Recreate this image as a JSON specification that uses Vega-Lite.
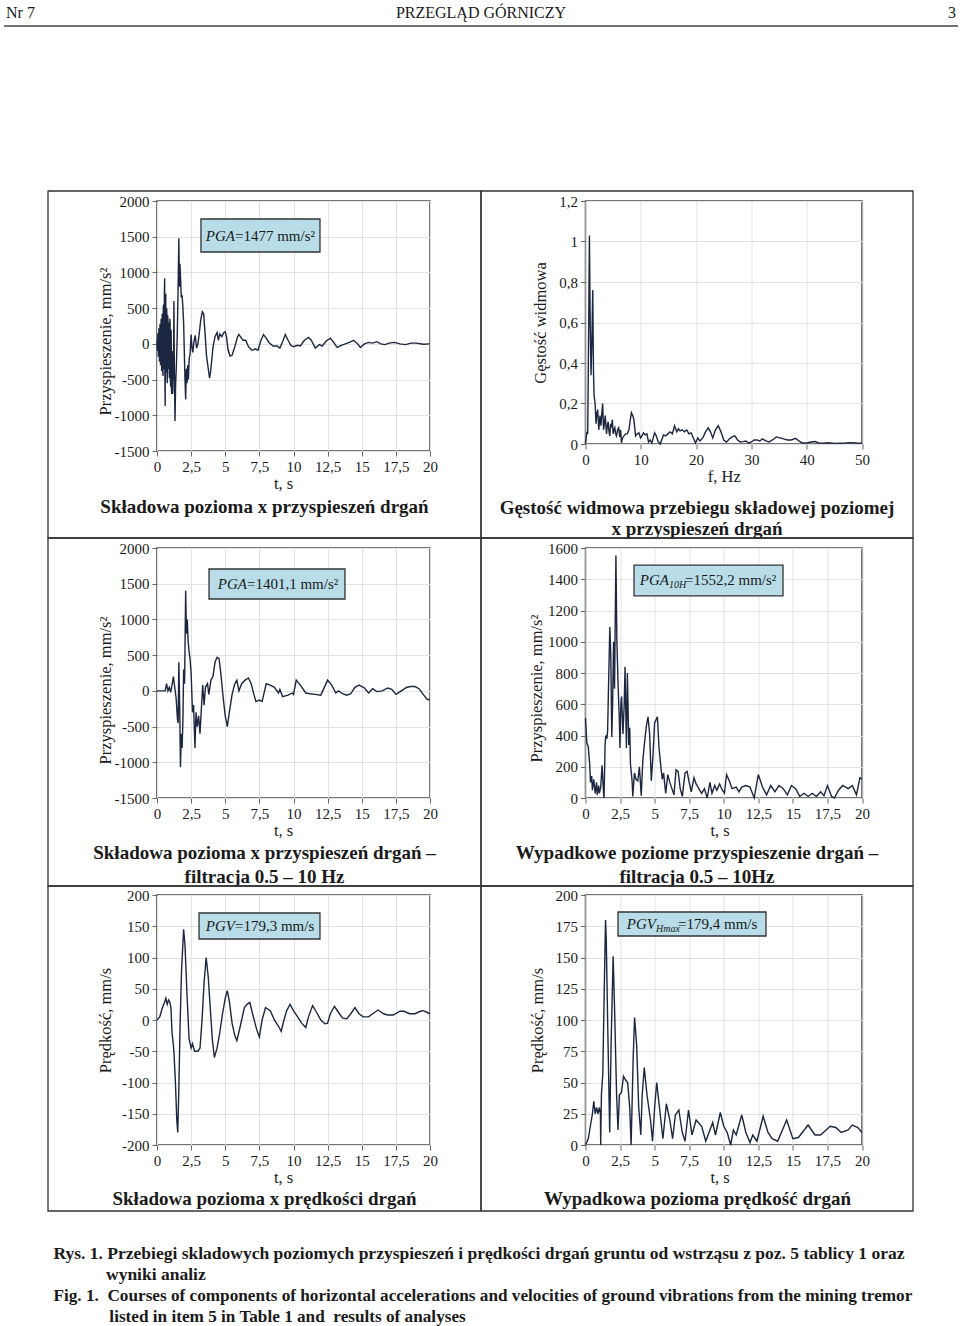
{
 "$schema": "https://vega.github.io/schema/vega-lite/v6.json",
 "background": "white",
 "padding": {"left": 2, "top": 4, "right": 0, "bottom": 0},
 "config": {
  "view": {"stroke": "#4a4a4a", "strokeWidth": 1.5},
  "axis": {"labelFont": "Liberation Serif", "labelFontSize": 15, "labelColor": "#1a1a1a", "titleFont": "Liberation Serif", "titleFontSize": 16.5, "titleFontWeight": "normal", "titleColor": "#1a1a1a", "domain": false, "ticks": true, "tickColor": "#666", "tickSize": 5, "labelPadding": 3, "gridColor": "#e2e2e2", "titlePadding": 3, "labelFlush": false, "labelOverlap": false, "tickCount": 30},
  "axisX": {"titlePadding": 1},
  "text": {"font": "Liberation Serif", "color": "#1a1a1a"}
 },
 "datasets": {
  "p1": [{"t":0,"v":50},{"t":0.02,"v":-60},{"t":0.04,"v":-100},{"t":0.06,"v":120},{"t":0.08,"v":150},{"t":0.1,"v":-180},{"t":0.12,"v":-50},{"t":0.14,"v":220},{"t":0.16,"v":200},{"t":0.18,"v":-250},{"t":0.2,"v":-150},{"t":0.22,"v":280},{"t":0.24,"v":100},{"t":0.26,"v":-300},{"t":0.28,"v":-250},{"t":0.3,"v":350},{"t":0.32,"v":300},{"t":0.34,"v":-380},{"t":0.36,"v":-300},{"t":0.38,"v":420},{"t":0.4,"v":400},{"t":0.42,"v":-400},{"t":0.44,"v":-450},{"t":0.46,"v":500},{"t":0.48,"v":550},{"t":0.5,"v":-300},{"t":0.52,"v":-350},{"t":0.54,"v":700},{"t":0.56,"v":920},{"t":0.58,"v":-500},{"t":0.6,"v":-870},{"t":0.62,"v":300},{"t":0.64,"v":700},{"t":0.66,"v":-200},{"t":0.68,"v":-400},{"t":0.7,"v":500},{"t":0.72,"v":450},{"t":0.74,"v":-450},{"t":0.76,"v":-550},{"t":0.78,"v":400},{"t":0.8,"v":350},{"t":0.82,"v":-350},{"t":0.84,"v":-300},{"t":0.86,"v":300},{"t":0.88,"v":250},{"t":0.9,"v":-400},{"t":0.92,"v":-480},{"t":0.94,"v":350},{"t":0.96,"v":300},{"t":0.98,"v":-500},{"t":1.0,"v":-600},{"t":1.02,"v":200},{"t":1.04,"v":150},{"t":1.06,"v":-650},{"t":1.08,"v":-700},{"t":1.1,"v":-100},{"t":1.12,"v":-200},{"t":1.14,"v":-700},{"t":1.16,"v":-650},{"t":1.18,"v":-300},{"t":1.2,"v":-500},{"t":1.24,"v":600},{"t":1.27,"v":-300},{"t":1.32,"v":-1080},{"t":1.36,"v":-600},{"t":1.42,"v":-300},{"t":1.48,"v":100},{"t":1.54,"v":700},{"t":1.6,"v":1477},{"t":1.64,"v":800},{"t":1.68,"v":1120},{"t":1.73,"v":900},{"t":1.78,"v":650},{"t":1.84,"v":680},{"t":1.9,"v":500},{"t":1.95,"v":300},{"t":2.0,"v":-100},{"t":2.05,"v":-500},{"t":2.1,"v":-780},{"t":2.15,"v":-350},{"t":2.2,"v":-550},{"t":2.25,"v":-300},{"t":2.3,"v":-500},{"t":2.36,"v":-200},{"t":2.42,"v":-150},{"t":2.5,"v":130},{"t":2.56,"v":-50},{"t":2.62,"v":-120},{"t":2.7,"v":20},{"t":2.8,"v":120},{"t":2.9,"v":-60},{"t":3.0,"v":0},{"t":3.1,"v":150},{"t":3.2,"v":330},{"t":3.32,"v":450},{"t":3.42,"v":420},{"t":3.52,"v":150},{"t":3.62,"v":-150},{"t":3.72,"v":-300},{"t":3.85,"v":-480},{"t":3.92,"v":-400},{"t":4.0,"v":-250},{"t":4.1,"v":-50},{"t":4.25,"v":100},{"t":4.4,"v":160},{"t":4.5,"v":50},{"t":4.6,"v":140},{"t":4.75,"v":100},{"t":4.9,"v":160},{"t":5.0,"v":170},{"t":5.1,"v":90},{"t":5.2,"v":-80},{"t":5.35,"v":-170},{"t":5.5,"v":-160},{"t":5.7,"v":-40},{"t":5.9,"v":100},{"t":6.0,"v":130},{"t":6.15,"v":90},{"t":6.3,"v":50},{"t":6.5,"v":50},{"t":6.7,"v":-40},{"t":6.9,"v":-80},{"t":7.0,"v":-90},{"t":7.2,"v":-70},{"t":7.4,"v":-90},{"t":7.6,"v":40},{"t":7.8,"v":130},{"t":8.0,"v":80},{"t":8.2,"v":20},{"t":8.5,"v":-30},{"t":8.8,"v":-30},{"t":9.0,"v":-60},{"t":9.2,"v":30},{"t":9.4,"v":130},{"t":9.6,"v":50},{"t":9.8,"v":-20},{"t":10.0,"v":-40},{"t":10.3,"v":-20},{"t":10.5,"v":-30},{"t":10.8,"v":50},{"t":11.1,"v":90},{"t":11.3,"v":50},{"t":11.6,"v":-60},{"t":11.9,"v":-10},{"t":12.1,"v":-30},{"t":12.4,"v":40},{"t":12.7,"v":80},{"t":12.9,"v":30},{"t":13.2,"v":-50},{"t":13.5,"v":-20},{"t":13.8,"v":0},{"t":14.1,"v":20},{"t":14.4,"v":50},{"t":14.7,"v":0},{"t":14.9,"v":-50},{"t":15.2,"v":0},{"t":15.5,"v":20},{"t":15.8,"v":10},{"t":16.1,"v":30},{"t":16.4,"v":0},{"t":16.7,"v":-10},{"t":17.0,"v":10},{"t":17.4,"v":20},{"t":17.8,"v":0},{"t":18.2,"v":-10},{"t":18.6,"v":10},{"t":19.0,"v":10},{"t":19.5,"v":-5},{"t":20,"v":0}],
  "p2": [{"f":0,"g":0},{"f":0.25,"g":0.06},{"f":0.4,"g":0.05},{"f":0.55,"g":0.5},{"f":0.71,"g":1.03},{"f":0.85,"g":0.6},{"f":1.0,"g":0.34},{"f":1.15,"g":0.5},{"f":1.31,"g":0.76},{"f":1.45,"g":0.35},{"f":1.55,"g":0.24},{"f":1.74,"g":0.2},{"f":1.9,"g":0.1},{"f":2.05,"g":0.15},{"f":2.2,"g":0.17},{"f":2.4,"g":0.07},{"f":2.62,"g":0.14},{"f":2.8,"g":0.09},{"f":2.95,"g":0.15},{"f":3.1,"g":0.2},{"f":3.27,"g":0.07},{"f":3.42,"g":0.1},{"f":3.57,"g":0.14},{"f":3.8,"g":0.05},{"f":3.95,"g":0.09},{"f":4.1,"g":0.11},{"f":4.25,"g":0.06},{"f":4.4,"g":0.04},{"f":4.55,"g":0.1},{"f":4.7,"g":0.09},{"f":4.85,"g":0.12},{"f":5.0,"g":0.05},{"f":5.15,"g":0.07},{"f":5.3,"g":0.08},{"f":5.45,"g":0.05},{"f":5.6,"g":0.04},{"f":5.8,"g":0.07},{"f":6.0,"g":0.08},{"f":6.2,"g":0.035},{"f":6.35,"g":0.07},{"f":6.5,"g":0.006},{"f":6.7,"g":0.03},{"f":6.96,"g":0.04},{"f":7.25,"g":0.05},{"f":7.56,"g":0.05},{"f":7.86,"g":0.07},{"f":8.05,"g":0.11},{"f":8.3,"g":0.155},{"f":8.55,"g":0.14},{"f":8.75,"g":0.12},{"f":9.05,"g":0.04},{"f":9.35,"g":0.05},{"f":9.65,"g":0.055},{"f":9.95,"g":0.03},{"f":10.2,"g":0.04},{"f":10.5,"g":0.055},{"f":10.8,"g":0.045},{"f":11.1,"g":0.05},{"f":11.4,"g":0.01},{"f":11.7,"g":0.02},{"f":12.0,"g":0.005},{"f":12.5,"g":0.055},{"f":12.8,"g":0.04},{"f":13.1,"g":0.014},{"f":13.5,"g":0.0},{"f":14.1,"g":0.045},{"f":14.5,"g":0.04},{"f":14.9,"g":0.05},{"f":15.3,"g":0.06},{"f":15.7,"g":0.05},{"f":16.1,"g":0.09},{"f":16.5,"g":0.06},{"f":16.8,"g":0.075},{"f":17.1,"g":0.065},{"f":17.5,"g":0.07},{"f":17.9,"g":0.06},{"f":18.3,"g":0.07},{"f":18.7,"g":0.05},{"f":19.1,"g":0.055},{"f":19.5,"g":0.03},{"f":19.9,"g":0.005},{"f":20.3,"g":0.03},{"f":20.7,"g":0.015},{"f":21.2,"g":0.03},{"f":21.7,"g":0.06},{"f":22.2,"g":0.08},{"f":22.6,"g":0.06},{"f":23.0,"g":0.03},{"f":23.5,"g":0.07},{"f":24.0,"g":0.09},{"f":24.5,"g":0.06},{"f":25.0,"g":0.02},{"f":25.5,"g":0.01},{"f":26.0,"g":0.025},{"f":26.5,"g":0.035},{"f":27.0,"g":0.04},{"f":27.5,"g":0.02},{"f":28.0,"g":0.01},{"f":28.5,"g":0.012},{"f":29.0,"g":0.015},{"f":29.5,"g":0.005},{"f":30.0,"g":0.01},{"f":30.5,"g":0.02},{"f":31.0,"g":0.02},{"f":31.5,"g":0.015},{"f":32.0,"g":0.025},{"f":32.6,"g":0.015},{"f":33.2,"g":0.01},{"f":33.8,"g":0.02},{"f":34.5,"g":0.035},{"f":35.2,"g":0.03},{"f":35.8,"g":0.025},{"f":36.5,"g":0.02},{"f":37.2,"g":0.02},{"f":38.0,"g":0.028},{"f":38.6,"g":0.015},{"f":39.2,"g":0.005},{"f":40.0,"g":0.005},{"f":40.8,"g":0.01},{"f":41.5,"g":0.012},{"f":42.2,"g":0.005},{"f":43,"g":0.004},{"f":44,"g":0.006},{"f":45,"g":0.003},{"f":46,"g":0.004},{"f":47,"g":0.005},{"f":48,"g":0.007},{"f":49,"g":0.005},{"f":50,"g":0.004}],
  "p3": [{"t":0,"v":0},{"t":0.6,"v":0},{"t":0.7,"v":100},{"t":0.8,"v":0},{"t":0.9,"v":50},{"t":1.0,"v":-20},{"t":1.1,"v":80},{"t":1.2,"v":200},{"t":1.3,"v":50},{"t":1.4,"v":-100},{"t":1.5,"v":-400},{"t":1.55,"v":-450},{"t":1.6,"v":400},{"t":1.66,"v":-200},{"t":1.72,"v":-1070},{"t":1.78,"v":-600},{"t":1.84,"v":-800},{"t":1.9,"v":-400},{"t":1.95,"v":300},{"t":2.02,"v":100},{"t":2.1,"v":1400},{"t":2.16,"v":800},{"t":2.22,"v":1000},{"t":2.28,"v":700},{"t":2.35,"v":550},{"t":2.42,"v":450},{"t":2.5,"v":250},{"t":2.6,"v":-300},{"t":2.68,"v":-200},{"t":2.78,"v":-800},{"t":2.86,"v":-300},{"t":2.95,"v":-500},{"t":3.05,"v":-350},{"t":3.15,"v":-600},{"t":3.25,"v":-250},{"t":3.35,"v":80},{"t":3.45,"v":-200},{"t":3.55,"v":50},{"t":3.7,"v":100},{"t":3.8,"v":-50},{"t":3.95,"v":150},{"t":4.1,"v":200},{"t":4.25,"v":400},{"t":4.4,"v":470},{"t":4.55,"v":450},{"t":4.7,"v":200},{"t":4.85,"v":-100},{"t":5.0,"v":-350},{"t":5.15,"v":-500},{"t":5.3,"v":-300},{"t":5.5,"v":-50},{"t":5.7,"v":100},{"t":5.85,"v":150},{"t":6.0,"v":0},{"t":6.2,"v":100},{"t":6.45,"v":150},{"t":6.7,"v":180},{"t":6.9,"v":100},{"t":7.1,"v":-50},{"t":7.25,"v":-150},{"t":7.5,"v":-130},{"t":7.7,"v":-150},{"t":8.0,"v":100},{"t":8.3,"v":80},{"t":8.6,"v":50},{"t":8.9,"v":-30},{"t":9.0,"v":20},{"t":9.2,"v":-80},{"t":9.6,"v":-60},{"t":9.9,"v":-30},{"t":10.0,"v":-50},{"t":10.2,"v":150},{"t":10.5,"v":80},{"t":10.9,"v":-30},{"t":11.2,"v":-40},{"t":11.6,"v":-50},{"t":12.0,"v":-60},{"t":12.5,"v":150},{"t":12.8,"v":80},{"t":13.1,"v":-30},{"t":13.3,"v":0},{"t":13.6,"v":-40},{"t":13.9,"v":-60},{"t":14.2,"v":-40},{"t":14.5,"v":50},{"t":14.8,"v":80},{"t":15.2,"v":40},{"t":15.5,"v":-30},{"t":15.8,"v":30},{"t":16.1,"v":-10},{"t":16.5,"v":0},{"t":16.9,"v":40},{"t":17.2,"v":20},{"t":17.5,"v":-50},{"t":17.9,"v":0},{"t":18.3,"v":50},{"t":18.6,"v":60},{"t":18.9,"v":60},{"t":19.2,"v":30},{"t":19.5,"v":-50},{"t":19.8,"v":-120},{"t":20,"v":-120}],
  "p4": [{"t":0,"v":510},{"t":0.1,"v":350},{"t":0.2,"v":330},{"t":0.3,"v":220},{"t":0.36,"v":100},{"t":0.45,"v":140},{"t":0.5,"v":50},{"t":0.6,"v":120},{"t":0.7,"v":30},{"t":0.8,"v":100},{"t":0.85,"v":20},{"t":0.95,"v":80},{"t":1.0,"v":30},{"t":1.1,"v":70},{"t":1.2,"v":210},{"t":1.3,"v":40},{"t":1.34,"v":0},{"t":1.42,"v":350},{"t":1.47,"v":400},{"t":1.55,"v":380},{"t":1.6,"v":430},{"t":1.66,"v":690},{"t":1.76,"v":1095},{"t":1.83,"v":910},{"t":1.9,"v":390},{"t":1.96,"v":600},{"t":2.03,"v":1000},{"t":2.1,"v":700},{"t":2.2,"v":1552},{"t":2.27,"v":1000},{"t":2.37,"v":690},{"t":2.45,"v":500},{"t":2.49,"v":320},{"t":2.56,"v":600},{"t":2.61,"v":650},{"t":2.71,"v":410},{"t":2.8,"v":600},{"t":2.86,"v":840},{"t":2.96,"v":320},{"t":3.03,"v":800},{"t":3.13,"v":340},{"t":3.2,"v":450},{"t":3.25,"v":220},{"t":3.37,"v":110},{"t":3.42,"v":10},{"t":3.54,"v":160},{"t":3.65,"v":120},{"t":3.78,"v":110},{"t":3.9,"v":200},{"t":4.03,"v":15},{"t":4.15,"v":245},{"t":4.3,"v":380},{"t":4.4,"v":460},{"t":4.52,"v":520},{"t":4.64,"v":410},{"t":4.76,"v":110},{"t":4.88,"v":270},{"t":5.0,"v":480},{"t":5.2,"v":520},{"t":5.32,"v":320},{"t":5.44,"v":210},{"t":5.55,"v":120},{"t":5.65,"v":160},{"t":5.8,"v":30},{"t":5.95,"v":150},{"t":6.1,"v":100},{"t":6.25,"v":60},{"t":6.4,"v":20},{"t":6.55,"v":180},{"t":6.7,"v":170},{"t":6.85,"v":60},{"t":7.0,"v":10},{"t":7.2,"v":160},{"t":7.35,"v":170},{"t":7.5,"v":100},{"t":7.65,"v":40},{"t":7.85,"v":130},{"t":8.0,"v":90},{"t":8.2,"v":60},{"t":8.4,"v":30},{"t":8.6,"v":60},{"t":8.8,"v":0},{"t":9.0,"v":100},{"t":9.15,"v":30},{"t":9.35,"v":80},{"t":9.5,"v":50},{"t":9.7,"v":90},{"t":9.9,"v":50},{"t":10.05,"v":30},{"t":10.2,"v":150},{"t":10.4,"v":110},{"t":10.6,"v":60},{"t":10.9,"v":70},{"t":11.1,"v":40},{"t":11.3,"v":70},{"t":11.6,"v":80},{"t":11.9,"v":70},{"t":12.2,"v":0},{"t":12.5,"v":150},{"t":12.8,"v":70},{"t":13.1,"v":20},{"t":13.4,"v":80},{"t":13.7,"v":40},{"t":14.0,"v":80},{"t":14.3,"v":60},{"t":14.6,"v":20},{"t":14.9,"v":80},{"t":15.2,"v":60},{"t":15.5,"v":10},{"t":15.8,"v":30},{"t":16.1,"v":10},{"t":16.4,"v":30},{"t":16.7,"v":10},{"t":17.0,"v":40},{"t":17.25,"v":15},{"t":17.5,"v":80},{"t":17.8,"v":10},{"t":18.0,"v":0},{"t":18.3,"v":50},{"t":18.6,"v":80},{"t":19.0,"v":60},{"t":19.3,"v":80},{"t":19.6,"v":20},{"t":19.85,"v":130},{"t":20.0,"v":120}],
  "p5": [{"t":0,"v":0},{"t":0.2,"v":5},{"t":0.4,"v":20},{"t":0.55,"v":28},{"t":0.65,"v":35},{"t":0.75,"v":25},{"t":0.85,"v":32},{"t":0.95,"v":28},{"t":1.02,"v":20},{"t":1.1,"v":-20},{"t":1.2,"v":-40},{"t":1.25,"v":-55},{"t":1.35,"v":-100},{"t":1.45,"v":-160},{"t":1.52,"v":-180},{"t":1.6,"v":-110},{"t":1.7,"v":0},{"t":1.8,"v":80},{"t":1.95,"v":145},{"t":2.05,"v":120},{"t":2.2,"v":40},{"t":2.35,"v":-30},{"t":2.5,"v":-45},{"t":2.6,"v":-38},{"t":2.75,"v":-50},{"t":3.0,"v":-50},{"t":3.15,"v":-45},{"t":3.3,"v":0},{"t":3.45,"v":60},{"t":3.6,"v":100},{"t":3.75,"v":70},{"t":3.9,"v":20},{"t":4.05,"v":-30},{"t":4.2,"v":-60},{"t":4.4,"v":-45},{"t":4.6,"v":-20},{"t":4.8,"v":10},{"t":5.0,"v":35},{"t":5.15,"v":47},{"t":5.3,"v":30},{"t":5.5,"v":-5},{"t":5.7,"v":-25},{"t":5.85,"v":-33},{"t":6.1,"v":-10},{"t":6.4,"v":20},{"t":6.6,"v":25},{"t":6.8,"v":28},{"t":7.0,"v":10},{"t":7.3,"v":-15},{"t":7.5,"v":-27},{"t":7.7,"v":0},{"t":7.95,"v":20},{"t":8.3,"v":15},{"t":8.6,"v":0},{"t":8.9,"v":-10},{"t":9.1,"v":-18},{"t":9.3,"v":0},{"t":9.5,"v":15},{"t":9.75,"v":25},{"t":10.0,"v":15},{"t":10.3,"v":5},{"t":10.6,"v":-5},{"t":10.9,"v":-12},{"t":11.1,"v":5},{"t":11.4,"v":23},{"t":11.7,"v":12},{"t":12.0,"v":0},{"t":12.3,"v":-6},{"t":12.5,"v":-5},{"t":12.7,"v":10},{"t":13.0,"v":22},{"t":13.3,"v":12},{"t":13.6,"v":3},{"t":13.9,"v":2},{"t":14.2,"v":10},{"t":14.5,"v":20},{"t":14.8,"v":10},{"t":15.1,"v":5},{"t":15.5,"v":5},{"t":15.8,"v":10},{"t":16.2,"v":16},{"t":16.6,"v":10},{"t":16.9,"v":8},{"t":17.3,"v":8},{"t":17.8,"v":14},{"t":18.1,"v":14},{"t":18.5,"v":10},{"t":18.9,"v":10},{"t":19.3,"v":14},{"t":19.5,"v":15},{"t":19.8,"v":12},{"t":20,"v":10}],
  "p6": [{"t":0,"v":0},{"t":0.2,"v":5},{"t":0.35,"v":15},{"t":0.5,"v":25},{"t":0.6,"v":35},{"t":0.7,"v":25},{"t":0.8,"v":30},{"t":0.9,"v":25},{"t":1.0,"v":30},{"t":1.08,"v":25},{"t":1.1,"v":0},{"t":1.15,"v":40},{"t":1.25,"v":57},{"t":1.35,"v":120},{"t":1.45,"v":180},{"t":1.5,"v":165},{"t":1.6,"v":100},{"t":1.75,"v":10},{"t":1.85,"v":80},{"t":2.0,"v":151},{"t":2.1,"v":110},{"t":2.25,"v":40},{"t":2.35,"v":12},{"t":2.45,"v":40},{"t":2.6,"v":42},{"t":2.75,"v":55},{"t":2.9,"v":52},{"t":3.05,"v":50},{"t":3.2,"v":30},{"t":3.3,"v":0},{"t":3.45,"v":70},{"t":3.55,"v":102},{"t":3.7,"v":80},{"t":3.85,"v":30},{"t":4.0,"v":8},{"t":4.1,"v":40},{"t":4.25,"v":62},{"t":4.45,"v":40},{"t":4.7,"v":20},{"t":4.85,"v":3},{"t":5.0,"v":30},{"t":5.15,"v":50},{"t":5.35,"v":30},{"t":5.6,"v":5},{"t":5.85,"v":33},{"t":6.1,"v":20},{"t":6.3,"v":5},{"t":6.5,"v":24},{"t":6.75,"v":28},{"t":7.0,"v":10},{"t":7.2,"v":3},{"t":7.45,"v":28},{"t":7.7,"v":8},{"t":8.0,"v":20},{"t":8.4,"v":15},{"t":8.7,"v":3},{"t":9.2,"v":18},{"t":9.4,"v":8},{"t":9.75,"v":26},{"t":10.0,"v":15},{"t":10.25,"v":10},{"t":10.5,"v":0},{"t":10.7,"v":12},{"t":10.9,"v":8},{"t":11.3,"v":24},{"t":11.6,"v":10},{"t":11.9,"v":2},{"t":12.1,"v":8},{"t":12.4,"v":3},{"t":12.85,"v":23},{"t":13.2,"v":10},{"t":13.5,"v":5},{"t":13.9,"v":3},{"t":14.55,"v":20},{"t":15.0,"v":5},{"t":15.4,"v":6},{"t":16.1,"v":16},{"t":16.6,"v":8},{"t":17.0,"v":8},{"t":17.7,"v":15},{"t":18.1,"v":14},{"t":18.5,"v":10},{"t":19.0,"v":12},{"t":19.3,"v":16},{"t":19.7,"v":14},{"t":20.0,"v":10}]
 },
 "title": {
  "text": ["Rys. 1. Przebiegi skladowych poziomych przyspieszeń i prędkości drgań gruntu od wstrząsu z poz. 5 tablicy 1 oraz", "\u200b\u00a0\u00a0\u00a0\u00a0\u00a0\u00a0\u00a0\u00a0\u00a0\u00a0\u00a0\u00a0wyniki analiz"],
  "subtitle": ["Fig. 1.\u00a0 Courses of components of horizontal accelerations and velocities of ground vibrations from the mining tremor", "\u200b\u00a0\u00a0\u00a0\u00a0\u00a0\u00a0\u00a0\u00a0\u00a0\u00a0\u00a0\u00a0\u00a0listed in item 5 in Table 1 and\u00a0 results of analyses"],
  "orient": "bottom", "anchor": "start", "frame": "bounds", "offset": 33, "dx": 51,
  "font": "Liberation Serif", "fontSize": 17.5, "fontWeight": "bold", "color": "#1a1a1a", "lineHeight": 21,
  "subtitleFont": "Liberation Serif", "subtitleFontSize": 17.2, "subtitleFontWeight": "bold", "subtitleColor": "#1a1a1a", "subtitleLineHeight": 21, "subtitlePadding": 3.5
 },
 "columns": 2,
 "align": "each",
 "bounds": "flush",
 "spacing": {"row": 97, "column": 155.5},
 "concat": [
  {
   "width": 273, "height": 250,
   "data": {"values": [{}]},
   "layer": [
    {"data": {"name": "p1"}, "mark": {"type": "line", "color": "#1d2640", "strokeWidth": 1.4},
     "encoding": {
      "x": {"field": "t", "type": "quantitative", "scale": {"domain": [0, 20], "nice": false, "zero": false}, "axis": {"values": [0, 2.5, 5, 7.5, 10, 12.5, 15, 17.5, 20], "tickCount": 30, "title": "t, s", "titleX": 126, "labelOverlap": false, "labelFlush": false, "labelExpr": "replace(toString(datum.value), '.', ',')"}},
      "y": {"field": "v", "type": "quantitative", "scale": {"domain": [-1500, 2000], "nice": false, "zero": false}, "axis": {"values": [-1500, -1000, -500, 0, 500, 1000, 1500, 2000], "tickCount": 30, "title": "Przyspieszenie, mm/s²", "titleY": 140, "titlePadding": 1, "labelOverlap": false, "labelExpr": "replace(toString(datum.value), '.', ',')"}}
     }},
    {"mark": {"type": "rect", "filled": false, "stroke": "#333", "strokeWidth": 1.3},
     "encoding": {"x": {"datum": -7.985}, "x2": {"datum": 23.736}, "y": {"datum": 2140}, "y2": {"datum": -2718}}},
    {"mark": {"type": "rect", "fill": "#b8dde8", "stroke": "#333", "strokeWidth": 1.3},
     "encoding": {"x": {"datum": 3.22}, "x2": {"datum": 11.94}, "y": {"datum": 1748}, "y2": {"datum": 1286}}},
    {"mark": {"type": "text", "text": "PGA", "fontStyle": "italic", "align": "right", "baseline": "middle", "fontSize": 15},
     "encoding": {"x": {"datum": 5.71}, "y": {"datum": 1517}}},
    {"mark": {"type": "text", "text": "=1477 mm/s²", "align": "left", "baseline": "middle", "fontSize": 15},
     "encoding": {"x": {"datum": 5.71}, "y": {"datum": 1517}}},
    {"mark": {"type": "text", "text": "Składowa pozioma x przyspieszeń drgań", "align": "center", "baseline": "middle", "fontSize": 19, "fontWeight": "bold"},
     "encoding": {"x": {"datum": 7.875}, "y": {"datum": -2284}}},
    {"mark": {"type": "text", "text": "Nr 7", "align": "left", "baseline": "middle", "fontSize": 16},
     "encoding": {"x": {"datum": -11.062}, "y": {"datum": 4632}}},
    {"mark": {"type": "text", "text": "PRZEGLĄD GÓRNICZY", "align": "center", "baseline": "middle", "fontSize": 16},
     "encoding": {"x": {"datum": 23.736}, "y": {"datum": 4632}}},
    {"mark": {"type": "text", "text": "3", "align": "right", "baseline": "middle", "fontSize": 16},
     "encoding": {"x": {"datum": 58.535}, "y": {"datum": 4632}}},
    {"mark": {"type": "rule", "color": "#444", "strokeWidth": 1.5},
     "encoding": {"x": {"datum": -11.209}, "x2": {"datum": 58.681}, "y": {"datum": 4450}}}
   ]
  },
  {
   "width": 276.5, "height": 243,
   "data": {"values": [{}]},
   "layer": [
    {"data": {"name": "p2"}, "mark": {"type": "line", "color": "#1d2640", "strokeWidth": 1.4},
     "encoding": {
      "x": {"field": "f", "type": "quantitative", "scale": {"domain": [0, 50], "nice": false, "zero": false}, "axis": {"values": [0, 10, 20, 30, 40, 50], "tickCount": 30, "title": "f, Hz", "labelOverlap": false, "labelFlush": false}},
      "y": {"field": "g", "type": "quantitative", "scale": {"domain": [0, 1.2], "nice": false, "zero": false}, "axis": {"values": [0, 0.2, 0.4, 0.6, 0.8, 1, 1.2], "tickCount": 30, "title": "Gęstość widmowa", "titlePadding": 10, "labelOverlap": false, "labelExpr": "replace(toString(datum.value), '.', ',')"}}
     }},
    {"mark": {"type": "rect", "filled": false, "stroke": "#333", "strokeWidth": 1.3},
     "encoding": {"x": {"datum": -18.897}, "x2": {"datum": 59.222}, "y": {"datum": 1.2494}, "y2": {"datum": -0.4642}}},
    {"mark": {"type": "text", "text": ["Gęstość widmowa przebiegu składowej poziomej", "x przyspieszeń drgań"], "align": "center", "baseline": "middle", "fontSize": 19, "fontWeight": "bold", "lineHeight": 21},
     "encoding": {"x": {"datum": 20.163}, "y": {"datum": -0.316}}}
   ]
  },
  {
   "width": 273, "height": 250,
   "data": {"values": [{}]},
   "layer": [
    {"data": {"name": "p3"}, "mark": {"type": "line", "color": "#1d2640", "strokeWidth": 1.4},
     "encoding": {
      "x": {"field": "t", "type": "quantitative", "scale": {"domain": [0, 20], "nice": false, "zero": false}, "axis": {"values": [0, 2.5, 5, 7.5, 10, 12.5, 15, 17.5, 20], "tickCount": 30, "title": "t, s", "titleX": 126, "labelOverlap": false, "labelFlush": false, "labelExpr": "replace(toString(datum.value), '.', ',')"}},
      "y": {"field": "v", "type": "quantitative", "scale": {"domain": [-1500, 2000], "nice": false, "zero": false}, "axis": {"values": [-1500, -1000, -500, 0, 500, 1000, 1500, 2000], "tickCount": 30, "title": "Przyspieszenie, mm/s²", "titleY": 142, "titlePadding": 1, "labelOverlap": false, "labelExpr": "replace(toString(datum.value), '.', ',')"}}
     }},
    {"mark": {"type": "rect", "filled": false, "stroke": "#333", "strokeWidth": 1.3},
     "encoding": {"x": {"datum": -7.985}, "x2": {"datum": 23.736}, "y": {"datum": 2140}, "y2": {"datum": -2732}}},
    {"mark": {"type": "rect", "fill": "#b8dde8", "stroke": "#333", "strokeWidth": 1.3},
     "encoding": {"x": {"datum": 3.81}, "x2": {"datum": 13.77}, "y": {"datum": 1706}, "y2": {"datum": 1286}}},
    {"mark": {"type": "text", "text": "PGA", "fontStyle": "italic", "align": "right", "baseline": "middle", "fontSize": 15},
     "encoding": {"x": {"datum": 6.59}, "y": {"datum": 1496}}},
    {"mark": {"type": "text", "text": "=1401,1 mm/s²", "align": "left", "baseline": "middle", "fontSize": 15},
     "encoding": {"x": {"datum": 6.59}, "y": {"datum": 1496}}},
    {"mark": {"type": "text", "text": ["Składowa pozioma x przyspieszeń drgań –", "filtracja 0.5 – 10 Hz"], "align": "center", "baseline": "middle", "fontSize": 19, "fontWeight": "bold", "lineHeight": 24},
     "encoding": {"x": {"datum": 7.875}, "y": {"datum": -2270}}}
   ]
  },
  {
   "width": 276.5, "height": 250,
   "data": {"values": [{}]},
   "layer": [
    {"data": {"name": "p4"}, "mark": {"type": "line", "color": "#1d2640", "strokeWidth": 1.4},
     "encoding": {
      "x": {"field": "t", "type": "quantitative", "scale": {"domain": [0, 20], "nice": false, "zero": false}, "axis": {"values": [0, 2.5, 5, 7.5, 10, 12.5, 15, 17.5, 20], "tickCount": 30, "title": "t, s", "titleX": 134, "labelOverlap": false, "labelFlush": false, "labelExpr": "replace(toString(datum.value), '.', ',')"}},
      "y": {"field": "v", "type": "quantitative", "scale": {"domain": [0, 1600], "nice": false, "zero": false}, "axis": {"values": [0, 200, 400, 600, 800, 1000, 1200, 1400, 1600], "tickCount": 30, "title": "Przyspieszenie, mm/s²", "titleY": 140, "titlePadding": 3, "labelOverlap": false, "labelExpr": "replace(toString(datum.value), '.', ',')"}}
     }},
    {"mark": {"type": "rect", "filled": false, "stroke": "#333", "strokeWidth": 1.3},
     "encoding": {"x": {"datum": -7.559}, "x2": {"datum": 23.689}, "y": {"datum": 1664}, "y2": {"datum": -563.2}}},
    {"mark": {"type": "rect", "fill": "#b8dde8", "stroke": "#333", "strokeWidth": 1.3},
     "encoding": {"x": {"datum": 3.508}, "x2": {"datum": 14.286}, "y": {"datum": 1491}, "y2": {"datum": 1293}}},
    {"mark": {"type": "text", "text": "PGA", "fontStyle": "italic", "align": "right", "baseline": "middle", "fontSize": 15},
     "encoding": {"x": {"datum": 6.04}, "y": {"datum": 1395}}},
    {"mark": {"type": "text", "text": "10H", "fontStyle": "italic", "align": "left", "baseline": "middle", "fontSize": 10, "dy": 5},
     "encoding": {"x": {"datum": 6.04}, "y": {"datum": 1395}}},
    {"mark": {"type": "text", "text": "=1552,2 mm/s²", "align": "left", "baseline": "middle", "fontSize": 15},
     "encoding": {"x": {"datum": 7.197}, "y": {"datum": 1395}}},
    {"mark": {"type": "text", "text": ["Wypadkowe poziome przyspieszenie drgań –", "filtracja 0.5 – 10Hz"], "align": "center", "baseline": "middle", "fontSize": 19, "fontWeight": "bold", "lineHeight": 24},
     "encoding": {"x": {"datum": 8.065}, "y": {"datum": -352}}}
   ]
  },
  {
   "width": 273, "height": 250,
   "data": {"values": [{}]},
   "layer": [
    {"data": {"name": "p5"}, "mark": {"type": "line", "color": "#1d2640", "strokeWidth": 1.4},
     "encoding": {
      "x": {"field": "t", "type": "quantitative", "scale": {"domain": [0, 20], "nice": false, "zero": false}, "axis": {"values": [0, 2.5, 5, 7.5, 10, 12.5, 15, 17.5, 20], "tickCount": 30, "title": "t, s", "titleX": 126, "labelOverlap": false, "labelFlush": false, "labelExpr": "replace(toString(datum.value), '.', ',')"}},
      "y": {"field": "v", "type": "quantitative", "scale": {"domain": [-200, 200], "nice": false, "zero": false}, "axis": {"values": [-200, -150, -100, -50, 0, 50, 100, 150, 200], "tickCount": 30, "title": "Prędkość, mm/s", "titlePadding": 8, "labelOverlap": false, "labelExpr": "replace(toString(datum.value), '.', ',')"}}
     }},
    {"mark": {"type": "rect", "filled": false, "stroke": "#333", "strokeWidth": 1.3},
     "encoding": {"x": {"datum": -7.985}, "x2": {"datum": 23.736}, "y": {"datum": 214.4}, "y2": {"datum": -305.6}}},
    {"mark": {"type": "rect", "fill": "#b8dde8", "stroke": "#333", "strokeWidth": 1.3},
     "encoding": {"x": {"datum": 3.08}, "x2": {"datum": 11.94}, "y": {"datum": 171.2}, "y2": {"datum": 129.6}}},
    {"mark": {"type": "text", "text": "PGV", "fontStyle": "italic", "align": "right", "baseline": "middle", "fontSize": 15},
     "encoding": {"x": {"datum": 5.71}, "y": {"datum": 150.4}}},
    {"mark": {"type": "text", "text": "=179,3 mm/s", "align": "left", "baseline": "middle", "fontSize": 15},
     "encoding": {"x": {"datum": 5.71}, "y": {"datum": 150.4}}},
    {"mark": {"type": "text", "text": "Składowa pozioma x prędkości drgań", "align": "center", "baseline": "middle", "fontSize": 19, "fontWeight": "bold"},
     "encoding": {"x": {"datum": 7.875}, "y": {"datum": -286.4}}}
   ]
  },
  {
   "width": 276.5, "height": 250,
   "data": {"values": [{}]},
   "layer": [
    {"data": {"name": "p6"}, "mark": {"type": "line", "color": "#1d2640", "strokeWidth": 1.4},
     "encoding": {
      "x": {"field": "t", "type": "quantitative", "scale": {"domain": [0, 20], "nice": false, "zero": false}, "axis": {"values": [0, 2.5, 5, 7.5, 10, 12.5, 15, 17.5, 20], "tickCount": 30, "title": "t, s", "titleX": 134, "labelOverlap": false, "labelFlush": false, "labelExpr": "replace(toString(datum.value), '.', ',')"}},
      "y": {"field": "v", "type": "quantitative", "scale": {"domain": [0, 200], "nice": false, "zero": false}, "axis": {"values": [0, 25, 50, 75, 100, 125, 150, 175, 200], "tickCount": 30, "title": "Prędkość, mm/s", "titlePadding": 10, "labelOverlap": false, "labelExpr": "replace(toString(datum.value), '.', ',')"}}
     }},
    {"mark": {"type": "rect", "filled": false, "stroke": "#333", "strokeWidth": 1.3},
     "encoding": {"x": {"datum": -7.559}, "x2": {"datum": 23.689}, "y": {"datum": 207.2}, "y2": {"datum": -52.8}}},
    {"mark": {"type": "rect", "fill": "#b8dde8", "stroke": "#333", "strokeWidth": 1.3},
     "encoding": {"x": {"datum": 2.351}, "x2": {"datum": 13.056}, "y": {"datum": 186.4}, "y2": {"datum": 167.2}}},
    {"mark": {"type": "text", "text": "PGV", "fontStyle": "italic", "align": "right", "baseline": "middle", "fontSize": 15},
     "encoding": {"x": {"datum": 5.099}, "y": {"datum": 176.8}}},
    {"mark": {"type": "text", "text": "Hmax", "fontStyle": "italic", "align": "left", "baseline": "middle", "fontSize": 10, "dy": 5},
     "encoding": {"x": {"datum": 5.099}, "y": {"datum": 176.8}}},
    {"mark": {"type": "text", "text": "=179,4 mm/s", "align": "left", "baseline": "middle", "fontSize": 15},
     "encoding": {"x": {"datum": 6.691}, "y": {"datum": 176.8}}},
    {"mark": {"type": "text", "text": "Wypadkowa pozioma prędkość drgań", "align": "center", "baseline": "middle", "fontSize": 19, "fontWeight": "bold"},
     "encoding": {"x": {"datum": 8.1}, "y": {"datum": -43.2}}}
   ]
  }
 ]
}
